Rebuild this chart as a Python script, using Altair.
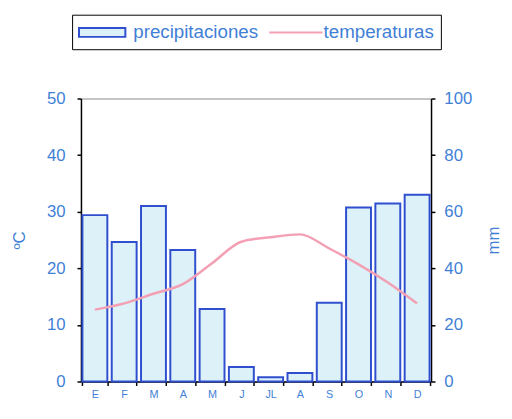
import json
import altair as alt
import pandas as pd

# ---- data ----
months = ["E", "F", "M", "A", "M", "J", "JL", "A", "S", "O", "N", "D"]
precip_mm = [58.8, 49.3, 62.0, 46.5, 25.6, 5.1, 1.5, 3.0, 27.8, 61.5, 62.9, 66.0]
temp_c = [12.7, 13.8, 15.5, 17.2, 20.9, 24.7, 25.5, 26.0, 23.5, 20.7, 17.5, 13.8]
series = ["precipitaciones", "temperaturas"]
temp_ticks = [0, 10, 20, 30, 40, 50]
precip_ticks = [0, 20, 40, 60, 80, 100]

BLUE = "#3f7fd6"
BAR_STROKE = "#2f4fcf"
BAR_FILL = "#dcf1f8"
PINK = "#f4a0b4"
FONT = "Liberation Sans"
# key swatches (unit = half of the symbol slot)
RECT_PATH = "M-1.1,-0.45H3.6V0.45H-1.1Z"
LINE_PATH = "M-1.1,0H4.3"

df_p = pd.DataFrame({"i": list(range(len(months))), "v": precip_mm})
df_t = pd.DataFrame({"i": list(range(len(months))), "v": temp_c})

label_expr = json.dumps(months) + "[datum.value]"

x_enc = alt.X(
    "i:O",
    title=None,
    scale=alt.Scale(paddingInner=0.15, paddingOuter=0.05),
    axis=alt.Axis(
        labelExpr=label_expr, labelAngle=0, domainColor="black", domainWidth=1.5,
        tickColor="black", tickSize=4, tickWidth=1.5, tickBand="extent",
        labelColor=BLUE, labelFontSize=11, labelPadding=3,
    ),
)

bars = alt.Chart(df_p).mark_bar(stroke=BAR_STROKE, strokeWidth=2, fill=BAR_FILL).encode(
    x=x_enc,
    y=alt.Y(
        "v:Q", scale=alt.Scale(domain=[0, 100]),
        axis=alt.Axis(
            orient="right", values=precip_ticks, title="mm", titleAngle=270, titleBaseline="top",
            titleColor=BLUE, titleFontSize=17, titleFontWeight="normal", titlePadding=14,
            labelColor=BLUE, labelFontSize=17, labelPadding=9,
            domainColor="black", domainWidth=1.5, tickColor="black", tickSize=4, tickWidth=1.5,
        ),
    ),
)

line = alt.Chart(df_t).mark_line(interpolate="monotone", strokeWidth=2.5, color=PINK).encode(
    x=x_enc,
    y=alt.Y(
        "v:Q", scale=alt.Scale(domain=[0, 50]),
        axis=alt.Axis(
            orient="left", values=temp_ticks, title="ºC",
            titleColor=BLUE, titleFontSize=17, titleFontWeight="normal", titlePadding=18,
            labelColor=BLUE, labelFontSize=17, labelPadding=12,
            domainColor="black", domainWidth=1.5, tickColor="black", tickSize=4, tickWidth=1.5,
        ),
    ),
)

legend = alt.Legend(
    orient="none", legendX=-9, legendY=-85, direction="horizontal",
    strokeColor="black", fillColor="white", padding=7, cornerRadius=0,
    labelColor=BLUE, labelFontSize=19, labelFont=FONT, labelOffset=33,
    symbolSize=400, symbolStrokeWidth=2, symbolOpacity=1, columnPadding=7,
)

# legend-only layer (no data rows): carries the key for both series
key = alt.Chart(alt.InlineData(values=[])).mark_point(opacity=1, filled=False).encode(
    shape=alt.Shape("serie:N", title=None, scale=alt.Scale(domain=series, range=[RECT_PATH, LINE_PATH]), legend=legend),
    stroke=alt.Stroke("serie:N", title=None, scale=alt.Scale(domain=series, range=[BAR_STROKE, PINK]), legend=legend),
    fill=alt.Fill("serie:N", title=None, scale=alt.Scale(domain=series, range=[BAR_FILL, "transparent"]), legend=legend),
)

chart = (
    alt.layer(bars, line, key)
    .resolve_scale(y="independent")
    .properties(
        width=355, height=287,
        autosize=alt.AutoSizeParams(type="none"),
        padding={"left": 74, "top": 89, "right": 74, "bottom": 20},
    )
    .configure(font=FONT)
    .configure_axis(grid=False)
    .configure_view(stroke="#8a8a8a", strokeWidth=1)
)

chart.save("out.html", embed_options={"renderer": "svg", "actions": False})
